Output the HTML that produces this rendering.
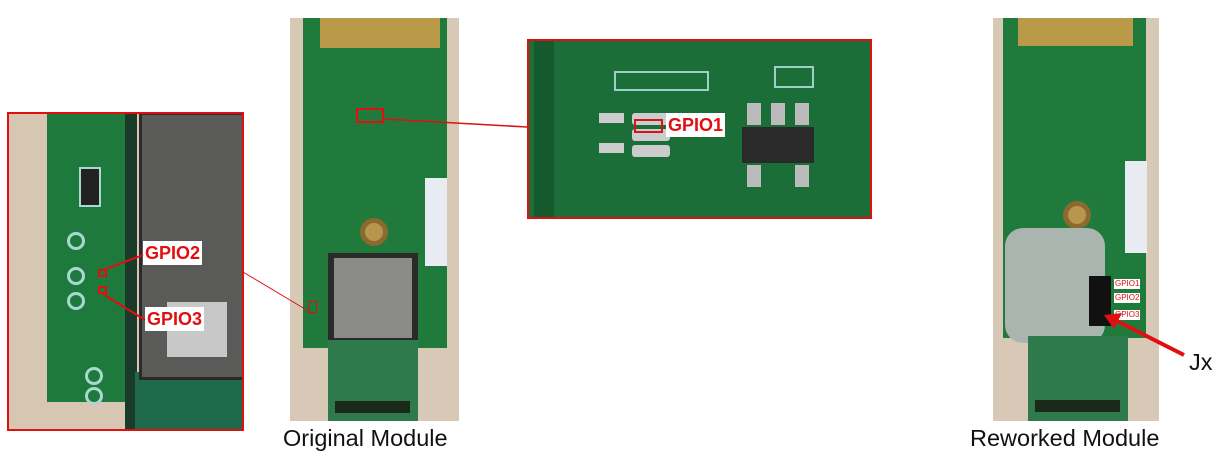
<!DOCTYPE html>
<html><head><meta charset="utf-8"><style>
body{margin:0;width:1217px;height:458px;background:#fff;position:relative;overflow:hidden;font-family:"Liberation Sans",sans-serif}
div{position:absolute;box-sizing:border-box}
.lbl{background:#fff;color:#e01010;font-weight:bold;font-size:18px;line-height:24px;padding:0 2px}
.sl{background:#fff;color:#e01010;font-size:8px;line-height:10px;padding:0 1px}
.cap{font-size:23.5px;color:#111;line-height:26px}
</style></head><body>
<!-- Left inset -->
<div style="left:7px;top:112px;width:237px;height:319px;background:#d6c6b2;overflow:hidden">
 <div style="left:40px;top:0;width:85px;height:290px;background:#1e7a3c"></div>
 <div style="left:118px;top:0;width:12px;height:319px;background:#1a3a2a"></div>
 <div style="left:128px;top:260px;width:110px;height:60px;background:#1f6a4a"></div>
 <div style="left:132px;top:0;width:110px;height:268px;background:#5a5a58;border:3px solid #2a2a2a"></div>
 <div style="left:160px;top:190px;width:60px;height:55px;background:#c8c8c8"></div>
 <div style="left:72px;top:55px;width:22px;height:40px;background:#222;border:2px solid #a8d8d0"></div>
 <div style="left:60px;top:120px;width:18px;height:18px;border:3px solid #a8d8d0;border-radius:50%"></div>
 <div style="left:60px;top:155px;width:18px;height:18px;border:3px solid #a8d8d0;border-radius:50%"></div>
 <div style="left:60px;top:180px;width:18px;height:18px;border:3px solid #a8d8d0;border-radius:50%"></div>
 <div style="left:78px;top:255px;width:18px;height:18px;border:3px solid #a8d8d0;border-radius:50%"></div>
 <div style="left:78px;top:275px;width:18px;height:18px;border:3px solid #a8d8d0;border-radius:50%"></div>
</div>
<div style="left:7px;top:112px;width:237px;height:319px;border:2px solid #e01010"></div>
<div style="left:98px;top:269px;width:9px;height:8px;border:2px solid #e01010"></div>
<div style="left:98px;top:286px;width:9px;height:8px;border:2px solid #e01010"></div>
<div class="lbl" style="left:143px;top:241px">GPIO2</div>
<div class="lbl" style="left:145px;top:307px">GPIO3</div>
<!-- Original module -->
<div style="left:290px;top:18px;width:169px;height:403px;background:#d8c9b6;overflow:hidden">
 <div style="left:13px;top:0;width:144px;height:330px;background:#1f7a3c"></div>
 <div style="left:30px;top:0;width:120px;height:30px;background:#b89a48"></div>
 <div style="left:135px;top:160px;width:22px;height:88px;background:#e8ecf2"></div>
 <div style="left:70px;top:200px;width:28px;height:28px;border-radius:50%;background:#b8964e;border:5px solid #8a6a2e"></div>
 <div style="left:38px;top:235px;width:90px;height:95px;background:#2a2a2a"></div>
 <div style="left:44px;top:240px;width:78px;height:80px;background:#8a8a86"></div>
 <div style="left:38px;top:322px;width:90px;height:81px;background:#2e7a4c"></div>
 <div style="left:45px;top:383px;width:75px;height:12px;background:#1a2a1a"></div>
 <div style="left:66px;top:90px;width:28px;height:15px;border:2px solid #e01010"></div>
 <div style="left:18px;top:283px;width:9px;height:12px;border:1px solid #e01010"></div>
</div>
<div class="cap" style="left:283px;top:425px">Original Module</div>
<!-- Top inset -->
<div style="left:527px;top:39px;width:345px;height:180px;background:#1c6e38;border:2px solid #e01010;overflow:hidden">
 <div style="left:5px;top:0;width:20px;height:180px;background:#155a2c"></div>
 <div style="left:85px;top:30px;width:95px;height:20px;border:2px solid #9fd0c8"></div>
 <div style="left:103px;top:72px;width:38px;height:12px;background:#ccc;border-radius:3px"></div>
 <div style="left:103px;top:88px;width:38px;height:12px;background:#ccc;border-radius:3px"></div>
 <div style="left:103px;top:104px;width:38px;height:12px;background:#ccc;border-radius:3px"></div>
 <div style="left:70px;top:72px;width:25px;height:10px;background:#ccc"></div>
 <div style="left:70px;top:102px;width:25px;height:10px;background:#ccc"></div>
 <div style="left:213px;top:86px;width:72px;height:36px;background:#2a2a2a"></div>
 <div style="left:218px;top:62px;width:14px;height:22px;background:#bbb"></div>
 <div style="left:242px;top:62px;width:14px;height:22px;background:#bbb"></div>
 <div style="left:266px;top:62px;width:14px;height:22px;background:#bbb"></div>
 <div style="left:218px;top:124px;width:14px;height:22px;background:#bbb"></div>
 <div style="left:266px;top:124px;width:14px;height:22px;background:#bbb"></div>
 <div style="left:245px;top:25px;width:40px;height:22px;border:2px solid #9fd0c8"></div>
</div>
<div style="left:634px;top:119px;width:29px;height:14px;border:2px solid #d01818"></div>
<div class="lbl" style="left:666px;top:113px">GPIO1</div>
<!-- Reworked -->
<div style="left:993px;top:18px;width:166px;height:403px;background:#d8c9b6;overflow:hidden">
 <div style="left:10px;top:0;width:143px;height:320px;background:#1f7a3c"></div>
 <div style="left:25px;top:0;width:115px;height:28px;background:#b89a48"></div>
 <div style="left:132px;top:143px;width:22px;height:92px;background:#e8ecf2"></div>
 <div style="left:70px;top:183px;width:28px;height:28px;border-radius:50%;background:#b8964e;border:5px solid #8a6a2e"></div>
 <div style="left:12px;top:210px;width:100px;height:115px;background:#aab5b0;border-radius:18px"></div>
 <div style="left:96px;top:258px;width:22px;height:50px;background:#111"></div>
 <div style="left:35px;top:318px;width:100px;height:85px;background:#2e7a4c"></div>
 <div style="left:42px;top:382px;width:85px;height:12px;background:#1a2a1a"></div>
</div>
<div class="sl" style="left:1114px;top:279px">GPIO1</div>
<div class="sl" style="left:1114px;top:293px">GPIO2</div>
<div class="sl" style="left:1114px;top:310px">GPIO3</div>
<div class="cap" style="left:1189px;top:349px">Jx</div>
<div class="cap" style="left:970px;top:425px">Reworked Module</div>
<svg style="position:absolute;left:0;top:0;z-index:5" width="1217" height="458">
<line x1="384" y1="119" x2="527" y2="127" stroke="#e01010" stroke-width="1.5"/>
<line x1="243" y1="272" x2="310" y2="312" stroke="#e01010" stroke-width="1"/>
<line x1="103" y1="270" x2="143" y2="255" stroke="#e01010" stroke-width="2"/>
<line x1="103" y1="294" x2="145" y2="320" stroke="#e01010" stroke-width="2"/>
<line x1="1184" y1="355" x2="1115" y2="320" stroke="#e01010" stroke-width="4"/>
<polygon points="1104,315 1122,313 1114,329" fill="#e01010"/>
</svg>
</body></html>
